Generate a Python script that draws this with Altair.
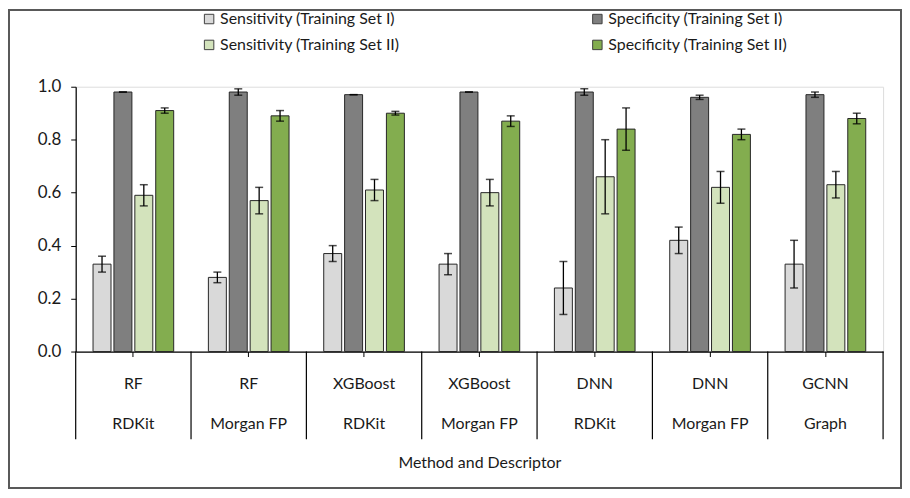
import altair as alt
import pandas as pd

methods = ["RF", "RF", "XGBoost", "XGBoost", "DNN", "DNN", "GCNN"]
descriptors = ["RDKit", "Morgan FP", "RDKit", "Morgan FP", "RDKit", "Morgan FP", "Graph"]
series = [
    "Sensitivity (Training Set I)",
    "Specificity (Training Set I)",
    "Sensitivity (Training Set II)",
    "Specificity (Training Set II)",
]
sens1 = [0.33, 0.28, 0.37, 0.33, 0.24, 0.42, 0.33]
sens1_err = [0.03, 0.02, 0.03, 0.04, 0.10, 0.05, 0.09]
spec1 = [0.98, 0.98, 0.97, 0.98, 0.98, 0.96, 0.97]
spec1_err = [0.0, 0.012, 0.0, 0.0, 0.012, 0.008, 0.01]
sens2 = [0.59, 0.57, 0.61, 0.60, 0.66, 0.62, 0.63]
sens2_err = [0.04, 0.05, 0.04, 0.05, 0.14, 0.06, 0.05]
spec2 = [0.91, 0.89, 0.90, 0.87, 0.84, 0.82, 0.88]
spec2_err = [0.01, 0.02, 0.007, 0.02, 0.08, 0.02, 0.02]
colors = ["#D9D9D9", "#7F7F7F", "#D3E3BC", "#83AD4F"]

keys = [f"{m} / {d}" for m, d in zip(methods, descriptors)]
rows = []
for s, vals, errs in zip(series, [sens1, spec1, sens2, spec2],
                         [sens1_err, spec1_err, sens2_err, spec2_err]):
    for k, v, e in zip(keys, vals, errs):
        rows.append({"key": k, "series": s, "value": v, "lo": v - e, "hi": v + e})
df = pd.DataFrame(rows)
cats = pd.DataFrame({"key": keys, "method": methods, "descriptor": descriptors})

W, H = 811, 266
FONT = "Lato"
TXT = "#1a1a1a"
FS = 16

xenc = alt.X("key:N", sort=keys, scale=alt.Scale(paddingInner=0, paddingOuter=0),
             axis=alt.Axis(labels=False, ticks=True, tickSize=5, tickColor="black",
                           domainColor="black", domainWidth=1.2,
                           title="Method and Descriptor", titlePadding=98,
                           titleFontSize=FS, titleFontWeight="normal",
                           titleFont=FONT, titleColor=TXT))
xoff = alt.XOffset("series:N", sort=series,
                   scale=alt.Scale(paddingInner=0.14, paddingOuter=0.83))

bars = alt.Chart(df).mark_bar(stroke="#262626", strokeWidth=1).encode(
    x=xenc,
    xOffset=xoff,
    y=alt.Y("value:Q", scale=alt.Scale(domain=[0, 1], nice=False, zero=True),
            axis=alt.Axis(values=[0, 0.2, 0.4, 0.6, 0.8, 1.0], format=".1f",
                          grid=False, domainColor="black", domainWidth=1.2,
                          tickColor="black", tickSize=5, labelFontSize=FS + 1,
                          labelFont=FONT, labelColor=TXT, labelPadding=10,
                          title=None)),
    color=alt.Color("series:N", sort=series,
                    scale=alt.Scale(domain=series, range=colors),
                    legend=alt.Legend(orient="none", legendX=126, legendY=-76,
                                      direction="horizontal",
                                      columns=2, columnPadding=190, rowPadding=10,
                                      symbolType="square", symbolSize=90,
                                      symbolStrokeColor="#404040",
                                      symbolStrokeWidth=1, symbolOpacity=1,
                                      labelFontSize=FS, labelFont=FONT,
                                      labelColor=TXT, labelLimit=0,
                                      labelOffset=3, padding=0, title=None)),
)

err = alt.Chart(df).mark_rule(color="black", strokeWidth=1.3).encode(
    x=alt.X("key:N", sort=keys), xOffset=xoff,
    y="lo:Q", y2="hi:Q")
caps_hi = alt.Chart(df).mark_tick(color="black", thickness=1.5, size=8).encode(
    x=alt.X("key:N", sort=keys), xOffset=xoff, y="hi:Q")
caps_lo = alt.Chart(df).mark_tick(color="black", thickness=1.5, size=8).encode(
    x=alt.X("key:N", sort=keys), xOffset=xoff, y="lo:Q")

seps = alt.Chart(cats).mark_rule(color="black", strokeWidth=1.2).encode(
    x=alt.X("key:N", sort=keys, bandPosition=0),
    y=alt.value(H), y2=alt.value(H + 88))
seps_end = alt.Chart(cats.head(1)).mark_rule(color="black", strokeWidth=1.2).encode(
    x=alt.value(W), y=alt.value(H), y2=alt.value(H + 88))

lab_m = alt.Chart(cats).mark_text(fontSize=FS, font=FONT, color=TXT).encode(
    x=alt.X("key:N", sort=keys), y=alt.value(H + 33), text="method:N")
lab_d = alt.Chart(cats).mark_text(fontSize=FS, font=FONT, color=TXT).encode(
    x=alt.X("key:N", sort=keys), y=alt.value(H + 73), text="descriptor:N")

frame = alt.Chart(cats.head(1)).mark_rect(fillOpacity=0, stroke="#595959",
                                          strokeWidth=2).encode(
    x=alt.value(-67), x2=alt.value(829), y=alt.value(-77), y2=alt.value(403))

chart = alt.layer(frame, bars, err, caps_hi, caps_lo, seps, seps_end, lab_m, lab_d).properties(
    width=W, height=H,
    autosize=alt.AutoSizeParams(type="none"),
    padding={"left": 68, "top": 78, "right": 19, "bottom": 138},
).configure_view(strokeWidth=0).configure(background="white")

chart.save("out.html", embed_options={"renderer": "svg", "actions": False})
